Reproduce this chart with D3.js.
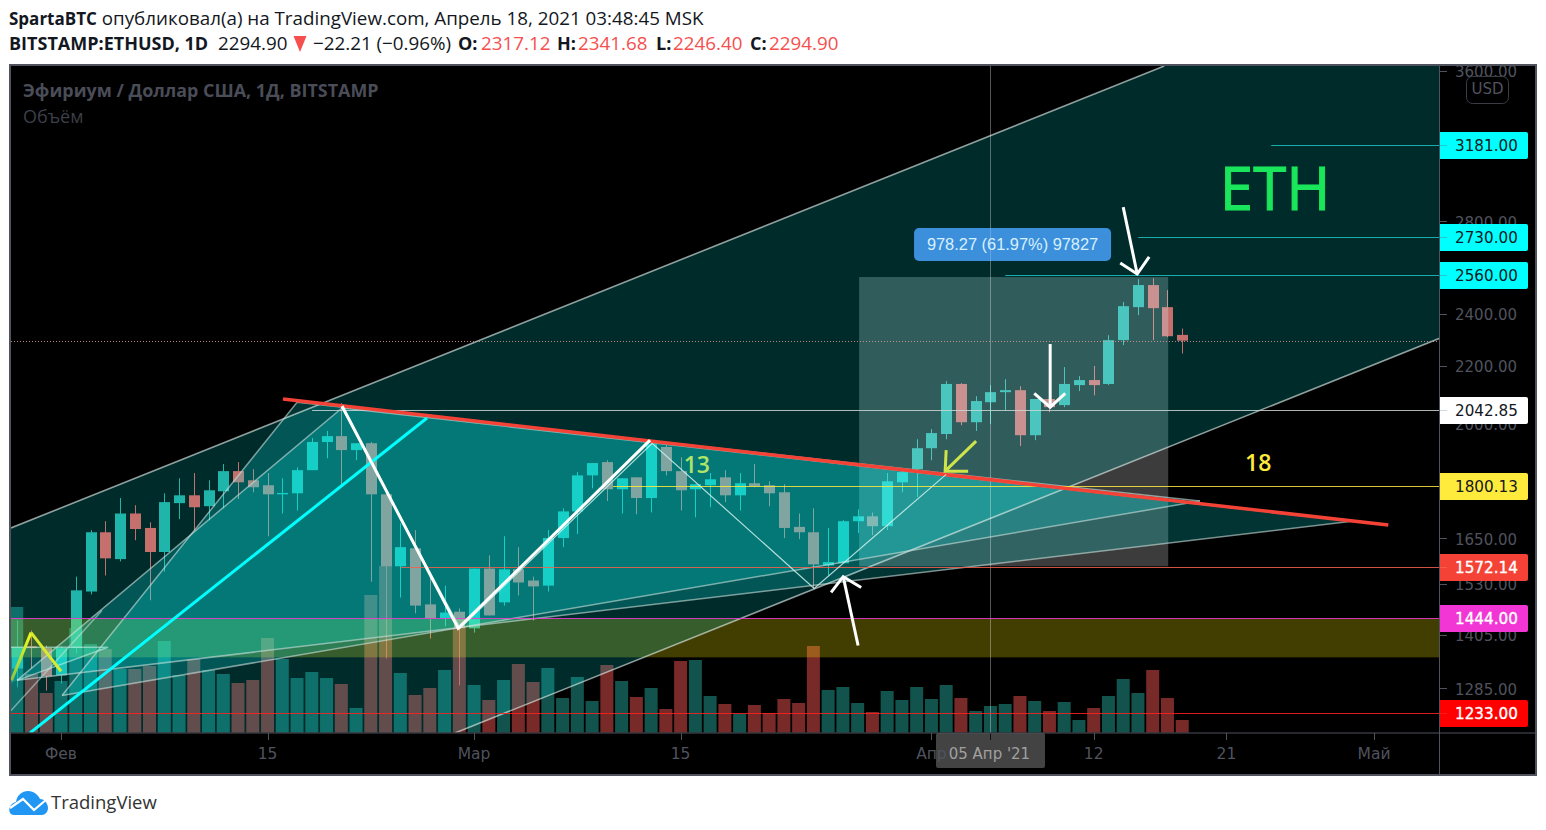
<!DOCTYPE html>
<html><head><meta charset="utf-8">
<script src="https://cdn.jsdelivr.net/npm/d3@7/dist/d3.min.js"></script>
<style>html,body{margin:0;padding:0;background:#fff;overflow:hidden}svg{display:block}</style>
</head><body><svg id="c" width="1546" height="830"></svg>
<script>
// ---- candle data, one entry per day, first entry is 29 Jan 2021 (day -3 from 1 Feb) ----
const firstDay = -3;
const opens  = [1328,1378,1374,1313,1374,1510,1667,1594,1720,1679,1613,1750,1773,1741,1785,1846,1818,1803,1776,1779,1849,1938,1957,1912,1934,1776,1575,1623,1478,1444,1460,1420,1569,1483,1567,1538,1525,1651,1726,1833,1874,1791,1827,1765,1922,1846,1791,1803,1827,1773,1809,1803,1782,1682,1667,1577,1583,1698,1712,1684,1812,1852,1918,1964,2135,2003,2071,2106,2113,1960,2082,2061,2131,2149,2135,2297,2427,2518,2427,2317.12];
const highs  = [1439,1415,1380,1378,1548,1673,1698,1765,1744,1695,1779,1824,1840,1818,1868,1874,1852,1840,1824,1858,1951,1974,2068,1934,1938,1776,1692,1673,1546,1525,1468,1569,1604,1656,1626,1548,1673,1735,1843,1871,1880,1824,1827,1944,1928,1889,1806,1840,1849,1840,1868,1815,1806,1720,1735,1679,1701,1732,1723,1840,1855,1947,1980,2145,2138,2092,2131,2152,2127,2082,2095,2196,2163,2200,2316,2448,2543,2547,2497,2341.68];
const lows   = [1287,1328,1280,1295,1362,1503,1551,1588,1645,1488,1561,1704,1673,1701,1735,1762,1782,1656,1720,1729,1849,1886,1803,1880,1535,1350,1495,1456,1396,1425,1291,1410,1451,1475,1500,1439,1510,1626,1662,1794,1756,1720,1718,1723,1833,1729,1709,1738,1753,1729,1797,1741,1651,1648,1518,1551,1583,1665,1659,1673,1782,1768,1880,1947,1993,1974,1997,2044,1925,1944,2037,2054,2110,2095,2131,2278,2395,2297,2308,2246.40];
const closes = [1376,1374,1311,1374,1513,1667,1596,1720,1676,1613,1753,1773,1738,1788,1846,1812,1797,1776,1780,1849,1938,1957,1912,1934,1776,1575,1626,1475,1444,1458,1420,1569,1451,1567,1533,1523,1651,1726,1833,1871,1791,1824,1765,1931,1846,1788,1806,1821,1773,1809,1800,1779,1679,1667,1580,1586,1698,1712,1684,1815,1843,1918,1967,2135,2003,2075,2106,2113,1960,2082,2054,2135,2149,2131,2297,2431,2518,2423,2312,2294.90];
const volumes= [126,59,40,52,105,89,84,64,64,67,92,58,74,63,59,50,53,95,74,55,61,55,49,25,138,167,60,38,45,63,105,48,33,53,69,51,65,35,56,32,68,52,36,45,24,72,73,37,29,19,28,20,34,30,87,43,46,30,21,42,33,46,34,48,35,22,27,29,37,32,22,31,13,25,37,54,40,63,35,13];

// ---- axes ----
const priceTicks = [3600,2800,2400,2200,2000,1650,1530,1405,1285];
const timeTickDays = [0,14,28,42,59,70,79,89];
const timeTickLabels = ['Фев','15','Мар','15','Апр','12','21','Май'];
const crosshairDay = 63, crosshairLabel = "05 Апр '21";

// ---- horizontal levels: price, first day, line colour, label bg, label text ----
const levelPrices = [3181,2730,2560,2042.85,1800.13,1572.14,1444,1233];
const levelStart  = [82.03,73.02,64,17.02,37.42,23.05,-3.39,-3.39];
const levelLine   = ['#1fc4c4','#1fc4c4','#1fc4c4','#c9d6d4','#ffeb3b','#f4604e','#f236d6','#ff2020'];
const levelBg     = ['#00ffff','#00ffff','#00ffff','#ffffff','#ffeb3b','#f44336','#f236d6','#ff0000'];
const levelText   = ['#131722','#131722','#131722','#131722','#131722','#ffffff','#ffffff','#ffffff'];

// ---- drawings, anchors are [day since 1 Feb, price] ----
const dL=-3.39, dR=93.49, pT=3629, pB=1192.6;
const channel = [[dL,1679],[74.78,pT],[dR,pT],[dR,2305],[26.71,pB],[dL,pB]];
const channelTop = [[dL,1679],[74.78,pT]];
const channelBottom = [[26.71,pB],[dR,2305]];
const triB = [[0.07,1269.5],[16,2071],[77.2,1756]];
const triC = [[-2.98,1302],[19.05,2051],[87.5,1698]];
const triSmall = [[dL,1376],[3.19,1376],[-2.98,1302],[dL,1295]];
const leftStub = [[dL,1238],[2.78,1463]];
const redLine = [[15.05,2082],[89.97,1687]];
const cyanLine = [[-2.1,pB],[24.81,2017]];
const whiteThick = [[19.05,2058],[26.92,1420],[39.93,1944]];
const whiteThin = [[19.05,2051],[27.05,1420],[40.07,1934],[51.05,1518],[60,1836]];
const yellowA = [[-3.36,1302],[-2.03,1410]];
const yellowB = [[-2.03,1410],[0,1322]];
const whiteArrows = [
  {tail:[72,2868],tip:[72.95,2565],head:[[71.8,2613],[72.95,2565],[73.76,2639]]},
  {tail:[67.05,2282],tip:[67.05,2054],head:[[65.97,2102],[67.05,2054],[68.07,2102]]},
  {tail:[54.03,1380],tip:[53.02,1548],head:[[52.2,1508],[53.02,1548],[54.24,1520]]}];
const yellowArrow = {tail:[62.03,1941],tip:[59.93,1846],head:[[60,1912],[59.93,1846],[61.49,1846]]};
const measureRect = {d0:54.1,d1:75.05,p0:2552,p1:1575};
const band = {p0:1444,p1:1353};
const measureText = '978.27 (61.97%) 97827';

const svg = d3.select('#c');
const x = d3.scaleLinear().domain([0,89]).range([61,1374]);
const y = d3.scaleLog().domain([3181,1233]).range([145,713]);
const yVol = d3.scaleLinear().domain([0,100]).range([733,633]);
const pt = a => [x(a[0]), y(a[1])];
const path = pts => d3.line()(pts.map(pt));
const UP='#26a69a', DOWN='#ef5350', AX='#50535e';
const SANS='DejaVu Sans', OS='"Open Sans"';

// header
const H = svg.append('g').attr('font-family',OS).attr('fill','#131722');
const t1 = H.append('text').attr('x',9).attr('y',24.5).attr('font-size',18.8);
t1.append('tspan').attr('font-weight',700).attr('font-size',17).text('SpartaBTC');
t1.append('tspan').text(' опубликовал(а) на TradingView.com, Апрель 18, 2021 03:48:45 MSK');
[['BITSTAMP:ETHUSD, 1D',9,700,'#131722',18],['2294.90',218,400,'#131722',18.8],['−22.21 (−0.96%)',313,400,'#131722',18.8],
 ['O:',458,700,'#131722',18],['2317.12',481,400,'#f5504e',18.8],['H:',557,700,'#131722',18],['2341.68',578,400,'#f5504e',18.8],
 ['L:',656,700,'#131722',18],['2246.40',673,400,'#f5504e',18.8],['C:',750,700,'#131722',18],['2294.90',769,400,'#f5504e',18.8]]
 .forEach(d=>H.append('text').attr('x',d[1]).attr('y',49.5).attr('font-size',d[4]).attr('font-weight',d[2]).attr('fill',d[3]).text(d[0]));
H.append('path').attr('d','M293.5 36h13l-6.5 16z').attr('fill','#f5504e');

// frame
svg.append('rect').attr('x',10).attr('y',65).attr('width',1526).attr('height',710).attr('fill','#000');
svg.append('clipPath').attr('id','plot').append('rect').attr('x',11).attr('y',66).attr('width',1428.5).attr('height',666.5);
const P = svg.append('g').attr('clip-path','url(#plot)');

// volume
const days = d3.range(closes.length).map(i=>i+firstDay);
P.append('g').selectAll('rect').data(days).join('rect')
 .attr('x',d=>x(d)-6.5).attr('width',13)
 .attr('y',(d,i)=>yVol(volumes[i])).attr('height',(d,i)=>yVol(0)-yVol(volumes[i]))
 .attr('fill',(d,i)=>closes[i]>=opens[i]?UP:DOWN).attr('opacity',.5);

// candles
const C = P.append('g').selectAll('g').data(days).join('g').attr('fill',(d,i)=>closes[i]>=opens[i]?UP:DOWN);
C.append('rect').attr('x',d=>Math.round(x(d))).attr('width',1)
 .attr('y',(d,i)=>y(highs[i])).attr('height',(d,i)=>y(lows[i])-y(highs[i]));
C.append('rect').attr('x',d=>Math.round(x(d))-5).attr('width',11)
 .attr('y',(d,i)=>y(Math.max(opens[i],closes[i])))
 .attr('height',(d,i)=>Math.max(1,Math.abs(y(opens[i])-y(closes[i]))));

// band and rectangle sit below the channel and triangle fills
P.append('rect').attr('x',11).attr('width',1429).attr('y',y(band.p0)).attr('height',y(band.p1)-y(band.p0)).attr('fill','rgba(255,235,0,.26)');
P.append('rect').attr('x',x(measureRect.d0)).attr('width',x(measureRect.d1)-x(measureRect.d0))
 .attr('y',y(measureRect.p0)).attr('height',y(measureRect.p1)-y(measureRect.p0)).attr('fill','rgba(255,255,255,.235)');

// channel and triangles
P.append('path').attr('d',path(channel)+'Z').attr('fill','rgba(0,255,255,.17)');
const TRI='rgba(10,255,250,.205)';
[triB,triC,triSmall].forEach(t=>P.append('path').attr('d',path(t)+'Z').attr('fill',TRI));
const gl=(pts,w,c)=>P.append('path').attr('d',path(pts)).attr('fill','none').attr('stroke',c).attr('stroke-width',w).attr('stroke-linejoin','miter');

gl(channelTop,1.6,'rgba(220,235,232,.65)');
gl(channelBottom,1.6,'rgba(220,235,232,.65)');
gl(triB,1.5,'rgba(205,225,222,.6)'); gl([triB[2],triB[0]],1.5,'rgba(205,225,222,.6)');
gl(triC,1.5,'rgba(205,225,222,.6)'); gl([triC[2],triC[0]],1.5,'rgba(205,225,222,.6)');
gl([triSmall[0],triSmall[1],triSmall[2]],1.5,'rgba(190,240,230,.6)');
gl(leftStub,1.5,'rgba(205,225,222,.55)');

// close price dotted line and crosshair
P.append('line').attr('x1',11).attr('x2',1440).attr('y1',Math.round(y(closes[closes.length-1]))+.5).attr('y2',Math.round(y(closes[closes.length-1]))+.5)
 .attr('stroke','#e8a09c').attr('stroke-dasharray','1 2').attr('opacity',.8);
P.append('line').attr('x1',Math.round(x(crosshairDay))+.5).attr('x2',Math.round(x(crosshairDay))+.5).attr('y1',66).attr('y2',733)
 .attr('stroke','rgba(255,255,255,.33)');

// price axis ticks
const ax = svg.append('g').attr('font-family',SANS).attr('font-size',15);
priceTicks.forEach(p=>{
  ax.append('rect').attr('x',1440).attr('width',7).attr('height',1).attr('y',Math.round(y(p))).attr('fill',AX);
  ax.append('text').attr('x',1455).attr('y',y(p)+6.5).attr('fill',AX).text(d3.format('.2f')(p));
});
// time axis: crosshair date box first, tick labels over it
svg.append('rect').attr('x',936).attr('y',733).attr('width',109).attr('height',35).attr('rx',2).attr('fill','#434343');
svg.append('text').attr('x',x(crosshairDay)-1).attr('y',759).attr('text-anchor','middle').attr('font-family',SANS).attr('font-size',15).attr('fill','#a0a0a0').text(crosshairLabel);
timeTickDays.forEach((d,i)=>{
  ax.append('rect').attr('x',Math.round(x(d))).attr('width',1).attr('y',733).attr('height',7).attr('fill',AX);
});
const tl = svg.append('g').attr('font-family',SANS).attr('font-size',15.5);
timeTickDays.forEach((d,i)=>{
  tl.append('text').attr('x',x(d)).attr('y',759).attr('text-anchor','middle').attr('fill',AX).text(timeTickLabels[i]);
});
svg.append('rect').attr('x',Math.round(x(crosshairDay))).attr('y',733).attr('width',1).attr('height',7).attr('fill','#111');

// level lines and labels
levelPrices.forEach((p,i)=>{
  const yy=Math.round(y(p));
  svg.append('path').attr('d',`M1439 ${yy-13}h87a2 2 0 0 1 2 2v23a2 2 0 0 1-2 2h-87z`).attr('fill',levelBg[i]);
  svg.append('text').attr('x',1455).attr('y',yy+6).attr('font-family',SANS).attr('font-size',15.2)
    .attr('fill',levelText[i]).attr('stroke',levelText[i]==='#ffffff'?'#ffffff':'none').attr('stroke-width',.35).text(d3.format('.2f')(p));
  svg.append('rect').attr('x',x(levelStart[i])).attr('y',yy).attr('width',1447-x(levelStart[i])).attr('height',1).attr('fill',levelLine[i]).attr('fill-opacity',.85);
});

// USD box
svg.append('rect').attr('x',1466.5).attr('y',76.5).attr('width',42).attr('height',27).attr('rx',6).attr('fill','#000').attr('fill-opacity',.35).attr('stroke','#3a3d46');
svg.append('text').attr('x',1487.5).attr('y',94).attr('text-anchor','middle').attr('font-family',SANS).attr('font-size',15).attr('fill',AX).text('USD');

// strong drawings above levels
const P2 = svg.append('g').attr('clip-path','url(#plot)');
const gl2=(d,w,c)=>P2.append('path').attr('d',d).attr('fill','none').attr('stroke',c).attr('stroke-width',w);
gl2(path(redLine),3.5,'#f44336');
gl2(path(cyanLine),3,'#00ffff');
gl2(path(whiteThin),1.2,'rgba(205,240,235,.85)');
gl2(path(whiteThick),3,'#ffffff');
const g=svg.append('defs').append('linearGradient').attr('id','yg').attr('gradientUnits','userSpaceOnUse')
 .attr('x1',pt(yellowA[0])[0]).attr('y1',pt(yellowA[0])[1]).attr('x2',pt(yellowA[1])[0]).attr('y2',pt(yellowA[1])[1]);
g.append('stop').attr('offset',0).attr('stop-color','#8bc34a'); g.append('stop').attr('offset',1).attr('stop-color','#eeff1a');
gl2(path(yellowA),3,'url(#yg)');
gl2(path(yellowB),3,'#d8ea2e');
whiteArrows.forEach(a=>{gl2(path([a.tail,a.tip]),3,'#fff');gl2(path(a.head),3,'#fff');});
gl2(path([yellowArrow.tail,yellowArrow.tip]),3,'#cfe44a');gl2(path(yellowArrow.head),3,'#cfe44a');

// measure label and texts
const mx=x(64.5), my=y(2694);
svg.append('rect').attr('x',mx-98.5).attr('y',my-16.5).attr('width',197).attr('height',33).attr('rx',5).attr('fill','#3b8fdb');
svg.append('text').attr('x',mx).attr('y',my+5.5).attr('text-anchor','middle').attr('font-family','"Liberation Sans"').attr('font-size',16.4).attr('fill','#d8efff').text(measureText);
svg.append('rect').attr('x',Math.round(x(crosshairDay))).attr('y',228).attr('width',1).attr('height',33).attr('fill','rgba(255,255,255,.2)');
svg.append('text').attr('x',x(82.3)).attr('y',y(2854)).attr('text-anchor','middle').attr('font-family',OS).attr('font-size',60).attr('fill','#19e65a').attr('stroke','#19e65a').attr('stroke-width',1).text('ETH');
svg.append('text').attr('x',x(43.1)).attr('y',y(1840)).attr('text-anchor','middle').attr('font-family',OS).attr('font-weight',600).attr('font-size',23).attr('fill','#b0e36a').text('13');
svg.append('text').attr('x',x(81.15)).attr('y',y(1846)).attr('text-anchor','middle').attr('font-family',OS).attr('font-weight',600).attr('font-size',23).attr('fill','#ffeb3b').text('18');
svg.append('text').attr('x',23).attr('y',97).attr('font-family',OS).attr('font-weight',700).attr('font-size',17.9).attr('fill','#4a4d58').text('Эфириум / Доллар США, 1Д, BITSTAMP');
svg.append('text').attr('x',23).attr('y',123).attr('font-family',OS).attr('font-size',18).attr('fill','#3c3f49').text('Объём');

// frame lines on top
svg.append('rect').attr('x',10).attr('y',65).attr('width',1526).attr('height',710).attr('fill','none').attr('stroke',AX).attr('stroke-width',2);
svg.append('rect').attr('x',1439).attr('y',66).attr('width',1).attr('height',708).attr('fill',AX);
svg.append('rect').attr('x',11).attr('y',732.5).attr('width',1524).attr('height',1).attr('fill',AX);

// TradingView logo
const L=svg.append('g').attr('transform','translate(9,791)');
L.append('path').attr('fill','#2196f3').attr('d','M1 22C-1 17 2 12 7 11C8 4 13 0 19 0C25 0 29 4 31 8C36 8 39 13 39 17C39 21 36 24 33 24H5C3 24 2 23 1 22Z');
L.append('path').attr('fill','none').attr('stroke','#fff').attr('stroke-width',2.2).attr('d','M1 17L14 8L25 19L38 8');
svg.append('text').attr('x',51).attr('y',808.5).attr('font-family',OS).attr('font-size',18.5).attr('fill','#333').text('TradingView');
</script></body></html>
